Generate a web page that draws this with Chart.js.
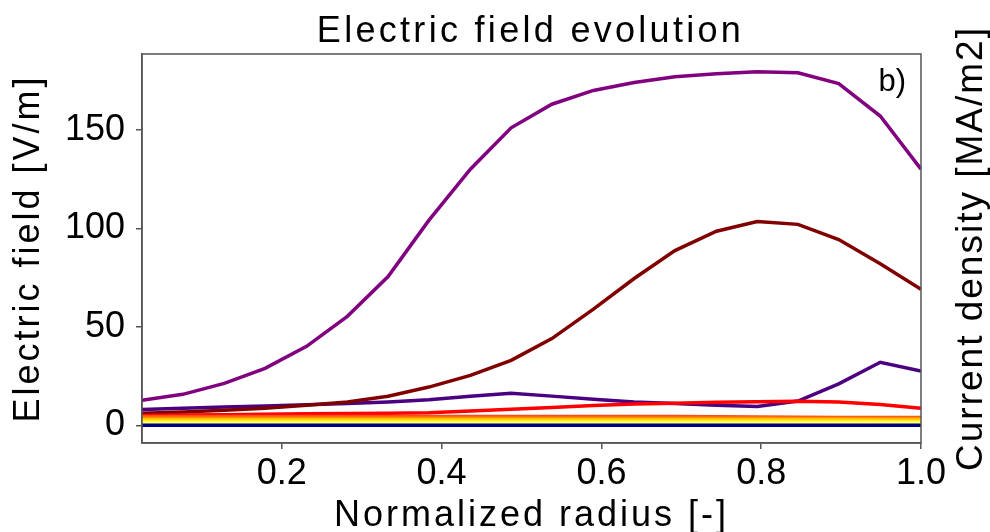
<!DOCTYPE html>
<html>
<head>
<meta charset="utf-8">
<script src="https://cdn.jsdelivr.net/npm/chart.js@4"></script>
<style>
  html, body { margin: 0; padding: 0; background: #fff; }
  #wrap { width: 990px; height: 532px; }
</style>
</head>
<body>
<div id="wrap"><canvas id="efield"></canvas></div>
<script>
// Electric field profiles vs normalized radius, one line per time slice

const radius = [0.025, 0.076, 0.128, 0.179, 0.231, 0.282, 0.333, 0.384, 0.436, 0.487,
                0.538, 0.590, 0.641, 0.692, 0.744, 0.795, 0.846, 0.897, 0.949, 1.0];

const fieldNavy    = [0, 0, 0, 0, 0, 0, 0, 0, 0, 0, 0, 0, 0, 0, 0, 0, 0, 0, 0, 0];
const fieldPale    = [1.2, 1.2, 1.2, 1.2, 1.2, 1.2, 1.2, 1.2, 1.2, 1.2, 1.2, 1.2, 1.2, 1.2, 1.2, 1.2, 1.2, 1.2, 1.2, 1.2];
const fieldYellow  = [2.0, 2.0, 2.0, 2.0, 2.0, 2.0, 2.0, 2.0, 2.0, 2.0, 2.0, 2.0, 2.0, 2.0, 2.0, 2.0, 2.0, 2.0, 2.0, 1.9];
const fieldGold    = [2.8, 2.8, 2.8, 2.8, 2.8, 2.8, 2.8, 2.8, 2.8, 2.8, 2.8, 2.8, 2.8, 2.8, 2.8, 2.8, 2.8, 2.8, 2.7, 2.7];
const fieldOrange  = [3.6, 3.6, 3.6, 3.6, 3.6, 3.6, 3.6, 3.6, 3.6, 3.6, 3.6, 3.6, 3.6, 3.6, 3.6, 3.6, 3.5, 3.5, 3.4, 3.4];
const fieldOrRed   = [4.4, 4.4, 4.4, 4.4, 4.4, 4.4, 4.4, 4.4, 4.5, 4.5, 4.5, 4.5, 4.4, 4.4, 4.3, 4.2, 4.1, 4.0, 3.9, 3.9];
const fieldRed     = [5.0, 5.2, 5.4, 5.6, 5.8, 6.0, 6.1, 6.4, 7.2, 8.1, 9.0, 10.0, 10.8, 11.2, 11.7, 12.0, 12.2, 11.8, 10.6, 8.6];
const fieldMaroon  = [6.1, 6.7, 7.6, 8.6, 10.2, 11.8, 14.7, 19.4, 25.3, 33, 44, 59, 74.5, 88.7, 98.5, 103.4, 102, 94.3, 82, 69];
const fieldIndigo  = [8.0, 8.6, 9.3, 9.8, 10.4, 11.0, 11.8, 13.0, 14.7, 16.2, 14.8, 13.2, 11.8, 11.0, 10.2, 9.5, 12.3, 21, 32, 27.5];
const fieldPurple  = [12.7, 15.7, 21.3, 28.9, 40.1, 55.3, 75.5, 104, 130, 151, 163, 170, 174, 177, 178.5, 179.5, 179, 173.5, 157, 130];

const xTicks = [0.2, 0.4, 0.6, 0.8, 1.0];
const yTicks = [0, 50, 100, 150];

const FONT = '"Liberation Sans", Arial, sans-serif';
const AXIS_GRAY = '#555555';

const series = [
  { data: fieldNavy, color: '#000080' },
  { data: fieldPale, color: '#ffff80' },
  { data: fieldYellow, color: '#ffee00' },
  { data: fieldGold, color: '#ffc400' },
  { data: fieldOrange, color: '#ff8c00' },
  { data: fieldOrRed, color: '#ff4a1a' },
  { data: fieldRed, color: '#ff0000' },
  { data: fieldMaroon, color: '#800000' },
  { data: fieldIndigo, color: '#4b0082' },
  { data: fieldPurple, color: '#800080' },
];

// letter spacing per text block (canvas letterSpacing, not exposed by Chart.js)
const spacing = { title: '3.3px', x: '3px', y: '3px' };
// title sits over the plot area rather than the whole canvas
const TITLE_SHIFT = 70;

const spacedText = {
  id: 'spacedText',
  beforeDraw(chart) {
    chart.ctx.letterSpacing = '0px';
    const wrap = (obj, fn, sp, dx) => {
      if (!obj || obj['_sp_' + fn]) return;
      const orig = obj[fn];
      obj[fn] = function () {
        const ctx = chart.ctx;
        ctx.save();
        ctx.translate(dx || 0, 0);
        ctx.letterSpacing = sp;
        orig.apply(this, arguments);
        ctx.restore();
        ctx.letterSpacing = '0px';
      };
      obj['_sp_' + fn] = true;
    };
    wrap(chart.titleBlock, 'draw', spacing.title, TITLE_SHIFT);
    wrap(chart.scales.x, 'drawTitle', spacing.x);
    wrap(chart.scales.y, 'drawTitle', spacing.y);
  },
};

// frame around the plot, panel tag and the right-hand axis label
const frame = {
  id: 'frame',
  afterDraw(chart) {
    const { ctx, chartArea: a } = chart;
    ctx.save();
    ctx.strokeStyle = AXIS_GRAY;
    ctx.lineWidth = 1.5;
    ctx.strokeRect(a.left, a.top, a.right - a.left, a.bottom - a.top);

    ctx.fillStyle = '#000';
    ctx.font = '31px ' + FONT;
    ctx.textAlign = 'right';
    ctx.textBaseline = 'alphabetic';
    ctx.fillText('b)', a.right - 15, a.top + 37);

    ctx.translate(972, (a.top + a.bottom) / 2);
    ctx.rotate(-Math.PI / 2);
    ctx.letterSpacing = '2px';
    ctx.font = '37px ' + FONT;
    ctx.textAlign = 'center';
    ctx.textBaseline = 'middle';
    ctx.fillText('Current density [MA/m2]', 0, 0);
    ctx.restore();
  },
};

new Chart(document.getElementById('efield'), {
  type: 'line',
  data: {
    datasets: series.map(s => ({
      data: radius.map((r, i) => ({ x: r, y: s.data[i] })),
      borderColor: s.color,
      borderWidth: 3.5,
      pointRadius: 0,
      tension: 0,
      fill: false,
    })),
  },
  options: {
    responsive: true,
    maintainAspectRatio: false,
    animation: false,
    layout: { padding: { left: 0, right: 69, top: 0, bottom: 0 } },
    plugins: {
      legend: { display: false },
      tooltip: { enabled: false },
      title: {
        display: true,
        text: 'Electric field evolution',
        color: '#000',
        font: { family: FONT, size: 36, weight: 'normal', lineHeight: 1 },
        padding: { top: 14, bottom: 4 },
      },
    },
    scales: {
      x: {
        type: 'linear',
        min: 0.025,
        max: 1.0,
        afterBuildTicks: (scale) => { scale.ticks = xTicks.map(v => ({ value: v })); },
        afterFit: (scale) => { scale.height = 89; },
        grid: { drawOnChartArea: false, drawTicks: true, tickLength: 6, color: AXIS_GRAY, lineWidth: 1.5 },
        border: { display: true, color: AXIS_GRAY, width: 1.5 },
        ticks: {
          color: '#000',
          padding: 3,
          maxRotation: 0,
          font: { family: FONT, size: 36 },
          callback: (v) => v.toFixed(1),
        },
        title: {
          display: true,
          text: 'Normalized radius [-]',
          color: '#000',
          font: { family: FONT, size: 36, lineHeight: 1 },
          padding: { top: 0, bottom: -2 },
        },
      },
      y: {
        type: 'linear',
        min: -9,
        max: 188.5,
        afterBuildTicks: (scale) => { scale.ticks = yTicks.map(v => ({ value: v })); },
        afterFit: (scale) => { scale.width = 142; },
        grid: { drawOnChartArea: false, drawTicks: true, tickLength: 6, color: AXIS_GRAY, lineWidth: 1.5 },
        border: { display: true, color: AXIS_GRAY, width: 1.5 },
        ticks: {
          color: '#000',
          padding: 11,
          font: { family: FONT, size: 36 },
        },
        title: {
          display: true,
          text: 'Electric field [V/m]',
          color: '#000',
          font: { family: FONT, size: 36, lineHeight: 1 },
          padding: { top: 11, bottom: 0 },
        },
      },
    },
  },
  plugins: [spacedText, frame],
});
</script>
</body>
</html>
